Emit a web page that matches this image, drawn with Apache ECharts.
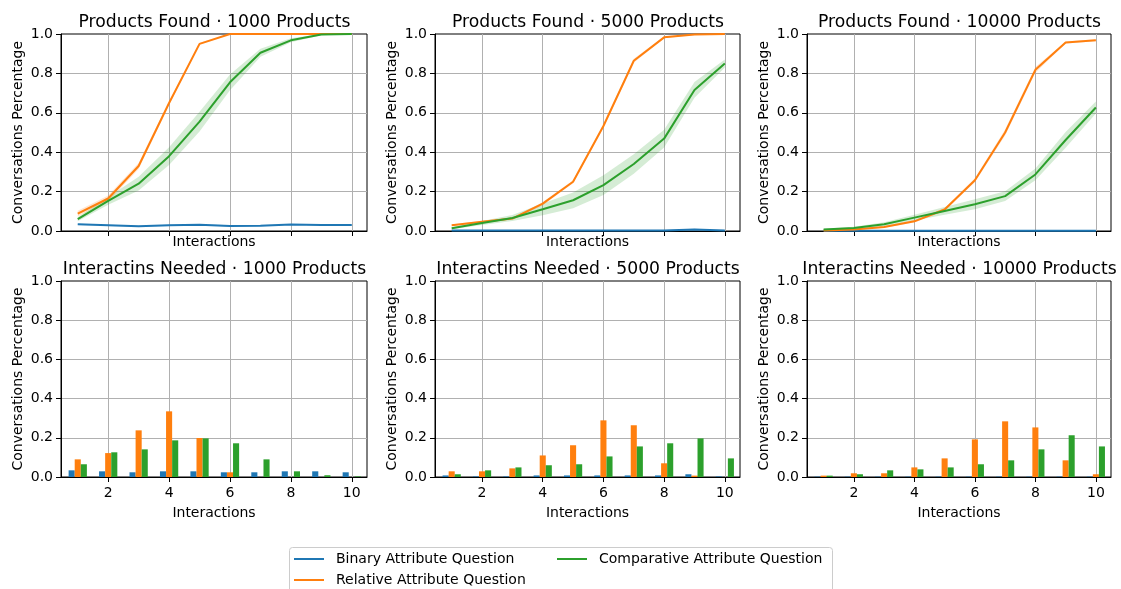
<!DOCTYPE html>
<html><head><meta charset="utf-8">
<script src="https://cdn.jsdelivr.net/npm/echarts@6/dist/echarts.min.js"></script>
<style>html,body{margin:0;padding:0;background:#fff}#c{width:1121px;height:589px}</style>
</head><body><div id="c"></div>
<script>
// ---------- data ----------
const interactions = [1, 2, 3, 4, 5, 6, 7, 8, 9, 10];
const xTicks = [2, 4, 6, 8, 10];
const productCounts = ['1000', '5000', '10000'];
const seriesNames = ['Binary Attribute Question', 'Relative Attribute Question', 'Comparative Attribute Question'];
const colors = ['#1f77b4', '#ff7f0e', '#2ca02c'];

// Products found (cumulative share), mean per interaction
const found1000Binary      = [0.034, 0.029, 0.024, 0.029, 0.032, 0.026, 0.027, 0.033, 0.030, 0.030];
const found1000Relative    = [0.088, 0.165, 0.330, 0.650, 0.950, 1.000, 1.000, 1.000, 1.000, 1.000];
const found1000Comparative = [0.060, 0.153, 0.240, 0.380, 0.555, 0.755, 0.905, 0.968, 0.997, 1.000];
const found5000Binary      = [0.002, 0.002, 0.002, 0.003, 0.003, 0.003, 0.003, 0.003, 0.008, 0.002];
const found5000Relative    = [0.029, 0.047, 0.063, 0.139, 0.250, 0.533, 0.864, 0.983, 0.997, 1.000];
const found5000Comparative = [0.014, 0.041, 0.066, 0.110, 0.156, 0.233, 0.340, 0.469, 0.716, 0.850];
const found10000Binary      = [0.001, 0.001, 0.001, 0.001, 0.001, 0.001, 0.001, 0.001, 0.001, 0.001];
const found10000Relative    = [0.003, 0.008, 0.020, 0.049, 0.109, 0.258, 0.500, 0.818, 0.957, 0.968];
const found10000Comparative = [0.007, 0.015, 0.034, 0.068, 0.102, 0.136, 0.177, 0.287, 0.462, 0.627];

// Half-width of the shaded confidence band
const band1000Binary      = [0.003, 0.003, 0.003, 0.003, 0.003, 0.003, 0.003, 0.003, 0.003, 0.003];
const band1000Relative    = [0.015, 0.015, 0.015, 0.010, 0.005, 0.000, 0.000, 0.000, 0.000, 0.000];
const band1000Comparative = [0.010, 0.020, 0.035, 0.045, 0.050, 0.040, 0.020, 0.010, 0.003, 0.000];
const band5000Binary      = [0.002, 0.002, 0.002, 0.002, 0.002, 0.002, 0.002, 0.002, 0.004, 0.002];
const band5000Relative    = [0.004, 0.005, 0.006, 0.008, 0.008, 0.010, 0.010, 0.005, 0.002, 0.000];
const band5000Comparative = [0.005, 0.010, 0.015, 0.030, 0.040, 0.050, 0.050, 0.045, 0.040, 0.020];
const band10000Binary      = [0.001, 0.001, 0.001, 0.001, 0.001, 0.001, 0.001, 0.001, 0.001, 0.001];
const band10000Relative    = [0.002, 0.003, 0.004, 0.006, 0.008, 0.010, 0.015, 0.015, 0.005, 0.005];
const band10000Comparative = [0.004, 0.006, 0.010, 0.015, 0.020, 0.025, 0.025, 0.030, 0.040, 0.030];

// Interactions needed (share of conversations)
const needed1000Binary      = [0.034, 0.029, 0.024, 0.029, 0.029, 0.024, 0.024, 0.029, 0.029, 0.024];
const needed1000Relative    = [0.090, 0.122, 0.238, 0.335, 0.199, 0.024, 0.000, 0.000, 0.000, 0.000];
const needed1000Comparative = [0.065, 0.126, 0.141, 0.187, 0.197, 0.172, 0.090, 0.029, 0.009, 0.003];
const needed5000Binary      = [0.008, 0.003, 0.003, 0.008, 0.008, 0.008, 0.008, 0.008, 0.014, 0.003];
const needed5000Relative    = [0.029, 0.029, 0.044, 0.110, 0.162, 0.289, 0.264, 0.070, 0.007, 0.000];
const needed5000Comparative = [0.014, 0.034, 0.049, 0.060, 0.065, 0.105, 0.156, 0.172, 0.197, 0.095];
const needed10000Binary      = [0.002, 0.002, 0.002, 0.002, 0.002, 0.002, 0.002, 0.002, 0.002, 0.002];
const needed10000Relative    = [0.007, 0.019, 0.019, 0.049, 0.095, 0.192, 0.284, 0.253, 0.085, 0.014];
const needed10000Comparative = [0.007, 0.014, 0.034, 0.039, 0.049, 0.065, 0.085, 0.141, 0.213, 0.156];

const foundMeans = [
  [found1000Binary, found1000Relative, found1000Comparative],
  [found5000Binary, found5000Relative, found5000Comparative],
  [found10000Binary, found10000Relative, found10000Comparative]
];
const foundBands = [
  [band1000Binary, band1000Relative, band1000Comparative],
  [band5000Binary, band5000Relative, band5000Comparative],
  [band10000Binary, band10000Relative, band10000Comparative]
];
const neededVals = [
  [needed1000Binary, needed1000Relative, needed1000Comparative],
  [needed5000Binary, needed5000Relative, needed5000Comparative],
  [needed10000Binary, needed10000Relative, needed10000Comparative]
];

// ---------- layout ----------
const FONT = 'DejaVu Sans';
const colLeft = [61, 435, 807];
const colWidth = [306, 305, 304];
const rowTop = [34, 281];
const rowHeight = [197, 196];
const X_MIN = 0.45, X_MAX = 10.5, BAR_UNITS = 0.2;

const grids = [], xAxes = [], yAxes = [], titles = [], series = [];

function bandColor(c) {
  const r = parseInt(c.slice(1, 3), 16), g = parseInt(c.slice(3, 5), 16), b = parseInt(c.slice(5, 7), 16);
  return 'rgba(' + r + ',' + g + ',' + b + ',0.2)';
}

for (let row = 0; row < 2; row++) {
  for (let col = 0; col < 3; col++) {
    const gi = row * 3 + col;
    grids.push({
      left: colLeft[col], top: rowTop[row], width: colWidth[col], height: rowHeight[row],
      show: true, borderColor: '#000', borderWidth: 1, backgroundColor: 'transparent'
    });
    xAxes.push({
      type: 'value', gridIndex: gi, min: X_MIN, max: X_MAX,
      name: 'Interactions', nameLocation: 'middle', nameGap: row === 0 ? 4 : 29,
      nameTextStyle: { fontFamily: FONT, fontSize: 14, color: '#000', verticalAlign: 'top' },
      axisLine: { show: true, onZero: false, lineStyle: { color: '#000', width: 1 } },
      axisTick: { show: true, length: 5, customValues: xTicks, lineStyle: { color: '#000' } },
      axisLabel: { show: row === 1, customValues: xTicks, margin: 9, fontFamily: FONT, fontSize: 14, color: '#000' },
      splitLine: { show: true, lineStyle: { color: '#b0b0b0', width: 1 } }
    });
    yAxes.push({
      type: 'value', gridIndex: gi, min: 0, max: 1, interval: 0.2,
      name: 'Conversations Percentage', nameLocation: 'middle', nameGap: 36,
      nameTextStyle: { fontFamily: FONT, fontSize: 14, color: '#000' },
      axisLine: { show: true, lineStyle: { color: '#000', width: 1 } },
      axisTick: { show: true, length: 5, lineStyle: { color: '#000' } },
      axisLabel: { margin: 8, fontFamily: FONT, fontSize: 14, color: '#000', formatter: v => v.toFixed(1) },
      splitLine: { show: true, showMinLine: false, showMaxLine: false, lineStyle: { color: '#b0b0b0', width: 1 } }
    });
    titles.push({
      text: (row === 0 ? 'Products Found · ' : 'Interactins Needed · ') + productCounts[col] + ' Products',
      left: colLeft[col] + colWidth[col] / 2 - 4.5, top: row === 0 ? 9 : 256, textAlign: 'center',
      textStyle: { fontFamily: FONT, fontSize: 17.2, fontWeight: 'normal', color: '#000' }
    });
  }
}

// line series first (legend icons come from them)
for (let col = 0; col < 3; col++) {
  for (let s = 0; s < 3; s++) {
    series.push({
      type: 'line', name: seriesNames[s], xAxisIndex: col, yAxisIndex: col,
      data: interactions.map((x, i) => [x, foundMeans[col][s][i]]),
      symbol: 'none', z: 5, lineStyle: { color: colors[s], width: 2 }, itemStyle: { color: colors[s] }
    });
  }
}
// confidence bands
for (let col = 0; col < 3; col++) {
  for (let s = 0; s < 3; s++) {
    const mean = foundMeans[col][s], half = foundBands[col][s];
    series.push({
      type: 'custom', xAxisIndex: col, yAxisIndex: col, silent: true, z: 3,
      data: interactions.map((x, i) => [x, Math.max(0, mean[i] - half[i]), Math.min(1, mean[i] + half[i])]),
      renderItem: function (params, api) {
        if (params.dataIndex !== 0) return;
        const up = [], lo = [];
        for (let i = 0; i < interactions.length; i++) {
          up.push(api.coord([interactions[i], Math.min(1, mean[i] + half[i])]));
          lo.push(api.coord([interactions[i], Math.max(0, mean[i] - half[i])]));
        }
        return { type: 'polygon', shape: { points: up.concat(lo.reverse()) }, style: { fill: bandColor(colors[s]) } };
      }
    });
  }
}
// bars
for (let col = 0; col < 3; col++) {
  const bw = BAR_UNITS * colWidth[col] / (X_MAX - X_MIN);
  for (let s = 0; s < 3; s++) {
    series.push({
      type: 'bar', name: seriesNames[s], xAxisIndex: 3 + col, yAxisIndex: 3 + col,
      data: interactions.map((x, i) => [x, neededVals[col][s][i]]),
      barWidth: bw, barGap: '0%', itemStyle: { color: colors[s] }
    });
  }
}

const legendText = { fontFamily: FONT, fontSize: 14, color: '#000', padding: [0, 0, 0, 7] };
const legendPos = [[294, 552], [294, 573], [557, 552]];
const legends = seriesNames.map((n, s) => ({
  data: [{ name: n, icon: 'rect', itemStyle: { color: colors[s] } }],
  orient: 'horizontal', left: legendPos[s][0], top: legendPos[s][1], z: 10,
  padding: 0, itemWidth: 30, itemHeight: 2, textStyle: legendText, selectedMode: false
}));

const option = {
  animation: false,
  backgroundColor: '#fff',
  title: titles,
  grid: grids, xAxis: xAxes, yAxis: yAxes,
  graphic: [{
    type: 'rect', z: 0, left: 289, top: 547,
    shape: { width: 543, height: 50, r: 3 },
    style: { fill: '#fff', stroke: '#cccccc', lineWidth: 1 }
  }],
  legend: legends,
  series: series
};
const chart = echarts.init(document.getElementById('c'), null, { renderer: 'canvas' });
chart.setOption(option);
</script>
</body></html>
